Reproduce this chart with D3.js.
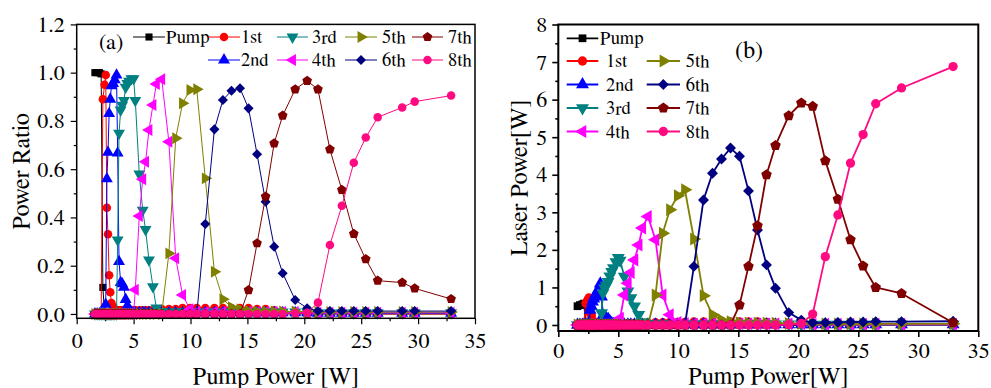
<!DOCTYPE html>
<html>
<head>
<meta charset="utf-8">
<script src="https://cdn.jsdelivr.net/npm/d3@7"></script>
<style>
  body { margin: 0; background: #fff; }
</style>
</head>
<body>
<div id="main"></div>
<script>
// pump power grid (W), panel (a) and panel (b)
var xA = [1.6, 1.8, 2.0, 2.15, 2.3, 2.45, 2.55, 2.65, 2.75, 2.85,
  2.95, 3.05, 3.2, 3.35, 3.5, 3.6, 3.72, 3.86, 4.0, 4.15,
  4.3, 4.45, 4.6, 4.8, 5.0, 5.15, 5.5, 5.8, 6.05, 6.35,
  6.7, 7.0, 7.47, 8.1, 8.7, 9.3, 9.95, 10.55, 11.3, 12.1,
  12.85, 13.6, 14.35, 15.1, 15.85, 16.6, 17.35, 18.1, 19.2, 20.25,
  21.2, 22.25, 23.3, 24.35, 25.4, 26.45, 28.6, 29.7, 32.9];
var xB = [1.6, 1.8, 2.0, 2.15, 2.3, 2.45, 2.55, 2.65, 2.75, 2.85,
  2.95, 3.05, 3.2, 3.35, 3.5, 3.6, 3.72, 3.86, 4.0, 4.15,
  4.3, 4.45, 4.6, 4.8, 5.0, 5.15, 5.5, 5.8, 6.05, 6.35,
  6.7, 7.0, 7.47, 8.1, 8.7, 9.3, 9.95, 10.55, 11.3, 12.1,
  12.85, 13.6, 14.35, 15.1, 15.85, 16.6, 17.35, 18.1, 19.2, 20.25,
  21.2, 22.25, 23.3, 24.35, 25.4, 26.45, 28.6, 32.9];

var seriesNames = ["Pump", "1st", "2nd", "3rd", "4th", "5th", "6th", "7th", "8th"];
var seriesColors = ["#000000", "#ff0000", "#0000ff", "#008080", "#ff00ff", "#808000", "#000080", "#800000", "#ff0a80"];

// (a) power ratio
var pumpA = [1, 1, 1, 0.995, 0.11, 0, 0, 0, 0, 0,
  0, 0, 0, 0, 0, 0, 0, 0, 0, 0,
  0, 0, 0, 0, 0, 0, 0, 0, 0, 0,
  0, 0, 0, 0, 0, 0, 0, 0, 0, 0,
  0, 0, 0, 0, 0, 0, 0, 0, 0, 0,
  0, 0, 0, 0, 0, 0, 0, 0, 0];
var s1A = [0, 0, 0, 0, 0.89, 0.95, 0.99, 0.44, 0.33, 0.16,
  0.09, 0.045, 0.03, 0.02, 0.015, 0.015, 0.015, 0.015, 0.015, 0.015,
  0.015, 0.015, 0.015, 0.015, 0.015, 0.015, 0.015, 0.015, 0.015, 0.015,
  0.015, 0.015, 0.02, 0.02, 0.02, 0.025, 0.025, 0.025, 0.025, 0.025,
  0.025, 0.025, 0.025, 0.025, 0.02, 0.02, 0.015, 0.01, 0.005, 0,
  0, 0, 0, 0, 0, 0, 0, 0, 0];
var s2A = [0, 0, 0, 0, 0, 0, 0.04, 0.56, 0.67, 0.83,
  0.89, 0.945, 0.955, 0.97, 0.99, 0.667, 0.217, 0.13, 0.125, 0.11,
  0.06, 0.035, 0.015, 0.008, 0.005, 0.005, 0.005, 0.005, 0.005, 0.005,
  0.005, 0.005, 0.005, 0.005, 0.005, 0.005, 0.005, 0.005, 0.005, 0.005,
  0.005, 0.005, 0.005, 0.005, 0.005, 0.005, 0.005, 0.005, 0.005, 0.005,
  0.003, 0.003, 0.003, 0.003, 0.003, 0.003, 0.003, 0.003, 0.003];
var s3A = [0, 0, 0, 0, 0, 0, 0, 0, 0, 0,
  0, 0, 0, 0, 0, 0.307, 0.749, 0.845, 0.865, 0.885,
  0.94, 0.955, 0.965, 0.975, 0.975, 0.885, 0.58, 0.43, 0.35, 0.224,
  0.113, 0.025, 0.01, 0.008, 0.008, 0.008, 0.008, 0.008, 0.008, 0.008,
  0.008, 0.008, 0.008, 0.008, 0.008, 0.008, 0.008, 0.008, 0.008, 0.008,
  0.005, 0.005, 0.005, 0.005, 0.005, 0.005, 0.005, 0.005, 0.005];
var s4A = [0, 0, 0, 0, 0, 0, 0, 0, 0, 0,
  0, 0, 0, 0, 0, 0, 0, 0, 0, 0,
  0, 0, 0, 0, 0, 0.1, 0.406, 0.558, 0.631, 0.762,
  0.866, 0.953, 0.973, 0.714, 0.231, 0.079, 0.02, 0.01, 0.008, 0.008,
  0.008, 0.008, 0.008, 0.008, 0.008, 0.008, 0.008, 0.008, 0.008, 0.008,
  0.005, 0.005, 0.005, 0.005, 0.005, 0.005, 0.005, 0.005, 0.005];
var s5A = [0, 0, 0, 0, 0, 0, 0, 0, 0, 0,
  0, 0, 0, 0, 0, 0, 0, 0, 0, 0,
  0, 0, 0, 0, 0, 0, 0, 0, 0, 0,
  0, 0, 0, 0.251, 0.728, 0.873, 0.928, 0.931, 0.562, 0.175,
  0.061, 0.028, 0.02, 0.012, 0.01, 0.01, 0.01, 0.01, 0.01, 0.01,
  0.008, 0.008, 0.008, 0.008, 0.008, 0.008, 0.008, 0.008, 0.008];
var s6A = [0, 0, 0, 0, 0, 0, 0, 0, 0, 0,
  0, 0, 0, 0, 0, 0, 0, 0, 0, 0,
  0, 0, 0, 0, 0, 0, 0, 0, 0, 0,
  0, 0, 0, 0, 0, 0, 0, 0, 0.373, 0.765,
  0.887, 0.925, 0.935, 0.852, 0.662, 0.465, 0.279, 0.169, 0.058, 0.024,
  0.012, 0.012, 0.012, 0.012, 0.012, 0.012, 0.012, 0.012, 0.012];
var s7A = [0, 0, 0, 0, 0, 0, 0, 0, 0, 0,
  0, 0, 0, 0, 0, 0, 0, 0, 0, 0,
  0, 0, 0, 0, 0, 0, 0, 0, 0, 0,
  0, 0, 0, 0, 0, 0, 0, 0, 0, 0,
  0, 0, 0, 0.099, 0.293, 0.486, 0.707, 0.822, 0.931, 0.966,
  0.931, 0.682, 0.514, 0.332, 0.227, 0.138, 0.13, 0.106, 0.062];
var s8A = [0, 0, 0, 0, 0, 0, 0, 0, 0, 0,
  0, 0, 0, 0, 0, 0, 0, 0, 0, 0,
  0, 0, 0, 0, 0, 0, 0, 0, 0, 0,
  0, 0, 0, 0, 0, 0, 0, 0, 0, 0,
  0, 0, 0, 0, 0, 0, 0, 0, 0.003, 0.005,
  0.047, 0.286, 0.448, 0.627, 0.731, 0.815, 0.856, 0.88, 0.905];

// (b) laser power, W
var pumpB = [0.5, 0.53, 0.55, 0.57, 0.07, 0, 0, 0, 0, 0,
  0, 0, 0, 0, 0, 0, 0, 0, 0, 0,
  0, 0, 0, 0, 0, 0, 0, 0, 0, 0,
  0, 0, 0, 0, 0, 0, 0, 0, 0, 0,
  0, 0, 0, 0, 0, 0, 0, 0, 0, 0,
  0, 0, 0, 0, 0, 0, 0, 0];
var s1B = [0, 0, 0, 0, 0.58, 0.66, 0.72, 0.33, 0.26, 0.13,
  0.08, 0.05, 0.03, 0.03, 0.03, 0.03, 0.03, 0.03, 0.03, 0.03,
  0.03, 0.03, 0.03, 0.03, 0.03, 0.03, 0.04, 0.04, 0.04, 0.04,
  0.04, 0.04, 0.05, 0.06, 0.06, 0.07, 0.07, 0.07, 0.08, 0.08,
  0.08, 0.08, 0.08, 0.08, 0.08, 0.08, 0.07, 0.05, 0.03, 0.01,
  0, 0, 0, 0, 0, 0, 0, 0];
var s2B = [0, 0, 0, 0, 0, 0, 0.03, 0.4, 0.5, 0.62,
  0.7, 0.78, 0.86, 0.95, 1.1, 0.75, 0.25, 0.18, 0.17, 0.16,
  0.09, 0.05, 0.02, 0.01, 0.01, 0.01, 0.01, 0.01, 0.01, 0.01,
  0.01, 0.01, 0.01, 0.01, 0.01, 0.01, 0.01, 0.01, 0.01, 0.01,
  0.01, 0.01, 0.01, 0.01, 0.01, 0.01, 0.01, 0.01, 0.01, 0.01,
  0.01, 0.01, 0.01, 0.01, 0.01, 0.01, 0.01, 0.01];
var s3B = [0, 0, 0, 0, 0, 0, 0, 0, 0, 0,
  0, 0, 0, 0, 0, 0.32, 0.85, 0.98, 1.05, 1.15,
  1.3, 1.42, 1.52, 1.68, 1.79, 1.72, 1.29, 0.9, 0.72, 0.5,
  0.27, 0.08, 0.03, 0.02, 0.02, 0.02, 0.02, 0.02, 0.02, 0.02,
  0.02, 0.02, 0.02, 0.02, 0.02, 0.02, 0.02, 0.02, 0.02, 0.02,
  0.01, 0.01, 0.01, 0.01, 0.01, 0.01, 0.01, 0.01];
var s4B = [0, 0, 0, 0, 0, 0, 0, 0, 0, 0,
  0, 0, 0, 0, 0, 0, 0, 0, 0, 0,
  0, 0, 0, 0, 0, 0.18, 0.8, 1.11, 1.4, 1.73,
  2.13, 2.58, 2.89, 2.27, 0.8, 0.27, 0.07, 0.04, 0.03, 0.03,
  0.03, 0.03, 0.03, 0.03, 0.03, 0.03, 0.03, 0.03, 0.03, 0.03,
  0.02, 0.02, 0.02, 0.02, 0.02, 0.02, 0.02, 0.02];
var s5B = [0, 0, 0, 0, 0, 0, 0, 0, 0, 0,
  0, 0, 0, 0, 0, 0, 0, 0, 0, 0,
  0, 0, 0, 0, 0, 0, 0, 0, 0, 0,
  0, 0, 0, 0.8, 2.44, 3.07, 3.44, 3.6, 2.29, 0.78,
  0.27, 0.13, 0.09, 0.06, 0.05, 0.05, 0.05, 0.05, 0.04, 0.04,
  0.03, 0.03, 0.03, 0.03, 0.03, 0.03, 0.03, 0.03];
var s6B = [0, 0, 0, 0, 0, 0, 0, 0, 0, 0,
  0, 0, 0, 0, 0, 0, 0, 0, 0, 0,
  0, 0, 0, 0, 0, 0, 0, 0, 0, 0,
  0, 0, 0, 0, 0, 0, 0, 0, 1.56, 3.33,
  4.04, 4.42, 4.71, 4.49, 3.57, 2.53, 1.6, 0.98, 0.33, 0.13,
  0.06, 0.06, 0.07, 0.08, 0.08, 0.09, 0.09, 0.1];
var s7B = [0, 0, 0, 0, 0, 0, 0, 0, 0, 0,
  0, 0, 0, 0, 0, 0, 0, 0, 0, 0,
  0, 0, 0, 0, 0, 0, 0, 0, 0, 0,
  0, 0, 0, 0, 0, 0, 0, 0, 0, 0,
  0, 0, 0, 0.53, 1.56, 2.64, 4.0, 4.78, 5.57, 5.91,
  5.82, 4.37, 3.35, 2.27, 1.57, 1.0, 0.84, 0.06];
var s8B = [0, 0, 0, 0, 0, 0, 0, 0, 0, 0,
  0, 0, 0, 0, 0, 0, 0, 0, 0, 0,
  0, 0, 0, 0, 0, 0, 0, 0, 0, 0,
  0, 0, 0, 0, 0, 0, 0, 0, 0, 0,
  0, 0, 0, 0, 0, 0, 0, 0, 0.01, 0.04,
  0.29, 1.82, 2.93, 4.31, 5.07, 5.89, 6.31, 6.88];

var xTicks = [0, 5, 10, 15, 20, 25, 30, 35];
var xMinor = [2.5, 7.5, 12.5, 17.5, 22.5, 27.5, 32.5];
var yTicksA = [0, 0.2, 0.4, 0.6, 0.8, 1.0, 1.2];
var yMinorA = [0.1, 0.3, 0.5, 0.7, 0.9, 1.1];
var yTicksB = [0, 1, 2, 3, 4, 5, 6, 7, 8];
var yMinorB = [0.5, 1.5, 2.5, 3.5, 4.5, 5.5, 6.5, 7.5];

var serif = "FreeSerif, 'Liberation Serif', serif";
var width = 991, height = 388;
var svg = d3.select("#main").append("svg")
  .attr("width", width).attr("height", height)
  .attr("font-family", serif)
  .style("display", "block").style("background", "#fff");

// symbols: square, circle, up/down/left/right triangle, diamond, pentagon, circle
var symbolPentagon = {
  draw: function (context, size) {
    var r = Math.sqrt(size / 2.3776);
    for (var i = 0; i < 5; i++) {
      var a = -Math.PI / 2 + i * 2 * Math.PI / 5;
      if (i == 0) context.moveTo(r * Math.cos(a), r * Math.sin(a));
      else context.lineTo(r * Math.cos(a), r * Math.sin(a));
    }
    context.closePath();
  }
};
var markerTypes = [d3.symbolSquare, d3.symbolCircle, d3.symbolTriangle, d3.symbolTriangle, d3.symbolTriangle,
  d3.symbolTriangle, d3.symbolSquare, symbolPentagon, d3.symbolCircle];
var markerRotate = [0, 0, 0, 180, -90, 90, 45, 0, 0];
var markerSizes = [46, 52, 56, 56, 56, 56, 46, 56, 52];

function drawMarker(g, i, x, y, k) {
  g.append("path")
    .attr("d", d3.symbol().type(markerTypes[i]).size(markerSizes[i] * k)())
    .attr("transform", "translate(" + x + "," + y + ") rotate(" + markerRotate[i] + ")")
    .attr("fill", seriesColors[i]);
}

function label(sel, size) {
  return sel.style("font-family", serif).style("font-size", size + "px").attr("fill", "#000");
}

function drawPanel(p) {
  var xScale = d3.scaleLinear().domain([0, 35]).range([p.left, p.right]);
  var yScale = d3.scaleLinear().domain(p.yDomain).range([p.bottom, p.top]);
  var g = svg.append("g");

  // minor ticks
  g.append("g").attr("transform", "translate(0," + p.bottom + ")")
    .call(d3.axisBottom(xScale).tickValues(xMinor).tickSize(3).tickFormat(""))
    .call(function (a) { a.select(".domain").remove(); });
  g.append("g").attr("transform", "translate(" + p.left + ",0)")
    .call(d3.axisLeft(yScale).tickValues(p.yMinor).tickSize(3).tickFormat(""))
    .call(function (a) { a.select(".domain").remove(); });
  // major ticks with labels
  g.append("g").attr("transform", "translate(0," + p.bottom + ")")
    .call(d3.axisBottom(xScale).tickValues(xTicks).tickSize(6).tickPadding(p.xPad).tickFormat(d3.format("d")))
    .call(function (a) {
      a.select(".domain").remove();
      label(a.selectAll("text"), 22);
    });
  g.append("g").attr("transform", "translate(" + p.left + ",0)")
    .call(d3.axisLeft(yScale).tickValues(p.yTicks).tickSize(6).tickPadding(p.yPad).tickFormat(p.yFormat))
    .call(function (a) {
      a.select(".domain").remove();
      label(a.selectAll("text"), 22);
    });
  g.selectAll(".tick line").attr("stroke", "#000").attr("stroke-width", p.frameWidth * 0.8);

  // series
  var line = d3.line().x(function (d) { return xScale(d[0]); }).y(function (d) { return yScale(d[1]); });
  p.series.forEach(function (ys, i) {
    var pts = p.x.map(function (x, j) { return [x, ys[j]]; });
    var sg = g.append("g");
    sg.append("path").attr("d", line(pts)).attr("fill", "none")
      .attr("stroke", seriesColors[i]).attr("stroke-width", p.lineWidth).attr("stroke-linejoin", "round");
    pts.forEach(function (d) { drawMarker(sg, i, xScale(d[0]), yScale(d[1]), p.markerScale); });
  });

  // frame
  g.append("rect").attr("x", p.left).attr("y", p.top)
    .attr("width", p.right - p.left).attr("height", p.bottom - p.top)
    .attr("fill", "none").attr("stroke", "#000").attr("stroke-width", p.frameWidth);

  // legend
  p.legend.forEach(function (l, i) {
    var lg = g.append("g");
    lg.append("line").attr("x1", l[0]).attr("x2", l[1]).attr("y1", l[3]).attr("y2", l[3])
      .attr("stroke", seriesColors[i]).attr("stroke-width", p.lineWidth);
    drawMarker(lg, i, (l[0] + l[1]) / 2, l[3], p.markerScale);
    label(lg.append("text").attr("x", l[2]).attr("y", l[3] + 6).text(seriesNames[i]), 18.5);
  });

  // titles
  label(g.append("text").attr("x", p.tag[0]).attr("y", p.tag[1]).text(p.tag[2]), p.tag[3]);
  label(g.append("text").attr("x", (p.left + p.right) / 2).attr("y", 384)
    .attr("text-anchor", "middle").text(p.xTitle), 24);
  label(g.append("text").attr("transform", "translate(" + p.yTitleX + "," + ((p.top + p.bottom) / 2) + ") rotate(-90)")
    .attr("text-anchor", "middle").text(p.yTitle), 24);
}

drawPanel({
  left: 76.7, right: 475, top: 24.4, bottom: 318.3,
  yDomain: [-0.018, 1.2], yTicks: yTicksA, yMinor: yMinorA, yFormat: d3.format(".1f"),
  xPad: 8, yPad: 6, frameWidth: 1.5, lineWidth: 1, markerScale: 1.1,
  x: xA, series: [pumpA, s1A, s2A, s3A, s4A, s5A, s6A, s7A, s8A],
  // [line x1, line x2, text x, y]
  legend: [[133, 165, 166, 37], [208, 240, 241, 37], [208, 240, 241, 60], [277, 308, 312, 37], [277, 308, 312, 60],
    [345, 377, 382, 37], [345, 377, 382, 60], [412, 443, 448, 37], [412, 443, 448, 60]],
  tag: [99, 49, "(a)", 22],
  xTitle: "Pump Power [W]", yTitle: "Power Ratio", yTitleX: 28.5
});

drawPanel({
  left: 558.3, right: 978.3, top: 24.5, bottom: 331,
  yDomain: [-0.16, 8], yTicks: yTicksB, yMinor: yMinorB, yFormat: d3.format("d"),
  xPad: 5.5, yPad: 5, frameWidth: 2, lineWidth: 1.8, markerScale: 1.3,
  x: xB, series: [pumpB, s1B, s2B, s3B, s4B, s5B, s6B, s7B, s8B],
  legend: [[566.7, 598.3, 600, 38.3], [566.7, 598.3, 606, 61], [566.7, 598.3, 606, 84.5], [566.7, 598.3, 606, 108],
    [566.7, 598.3, 606, 131.5], [646.7, 680, 685.7, 61], [646.7, 680, 685.7, 84.5], [646.7, 680, 685.7, 108],
    [646.7, 680, 685.7, 131.5]],
  tag: [735, 58, "(b)", 24],
  xTitle: "Pump Power[W]", yTitle: "Laser Power[W]", yTitleX: 527
});
</script>
</body>
</html>
